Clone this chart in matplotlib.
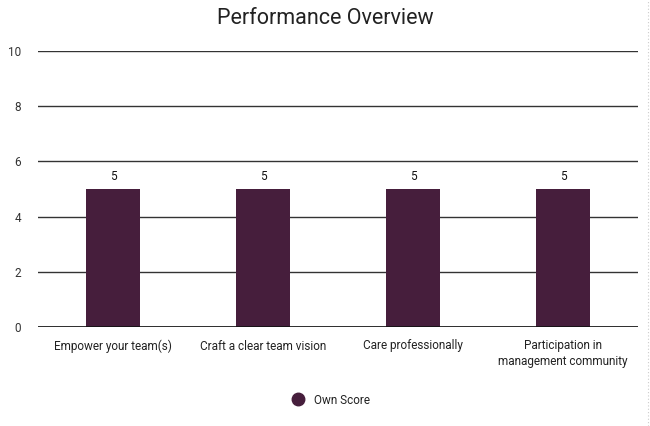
import matplotlib
matplotlib.use('Agg')
import matplotlib.pyplot as plt
from matplotlib.lines import Line2D

plt.rcParams['font.family'] = ['Roboto', 'DejaVu Sans']

categories = ['Empower your team(s)', 'Craft a clear team vision',
              'Care professionally', 'Participation in\nmanagement community']
own_score = [5, 5, 5, 5]
y_ticks = [0, 2, 4, 6, 8, 10]

bar_color = '#461e3c'
text_color = '#222222'

fig = plt.figure(figsize=(6.5, 4.26), dpi=100)
ax = fig.add_axes([38 / 650, 1 - 327 / 426, 600 / 650, 276 / 426])

x = range(len(categories))
bars = ax.bar(x, own_score, width=0.36, color=bar_color, zorder=3)
for b, v in zip(bars, own_score):
  ax.text(b.get_x() + b.get_width() / 2, v + 0.2, str(v), ha='center', va='bottom',
          fontsize=8.5, color='#111111', zorder=4)

ax.set_xlim(-0.5, len(categories) - 0.5)
ax.set_ylim(0, 10)
ax.set_yticks(y_ticks)
ax.set_xticks(list(x))
ax.set_xticklabels(categories, fontsize=8.5, color=text_color, linespacing=1.3)
ax.tick_params(axis='y', labelsize=8.5, labelcolor='#333333', length=0, pad=12)
ax.tick_params(axis='x', length=0, pad=9)
ax.grid(axis='y', color='#333333', linewidth=1.0, zorder=0)
ax.axhline(0, color='#111111', linewidth=1.2, zorder=4)
for s in ax.spines.values():
  s.set_visible(False)

fig.text(0.5, 1 - 18 / 426, 'Performance Overview', ha='center', va='center',
         fontsize=15.5, color=text_color)

handle = Line2D([], [], marker='o', linestyle='', markersize=9,
                markerfacecolor=bar_color, markeredgecolor=bar_color)
fig.legend(handles=[handle], labels=['Own Score'], loc='center',
           bbox_to_anchor=(328 / 650, 1 - 400 / 426), frameon=False,
           fontsize=8.5, handletextpad=0.4, labelcolor=text_color)

# light dotted frame edge on the right
fig.add_artist(Line2D([648 / 650, 648 / 650], [0, 1], color='#cccccc',
                      linestyle=(0, (1, 2)), linewidth=0.8))

fig.savefig('out.png', dpi=100)
